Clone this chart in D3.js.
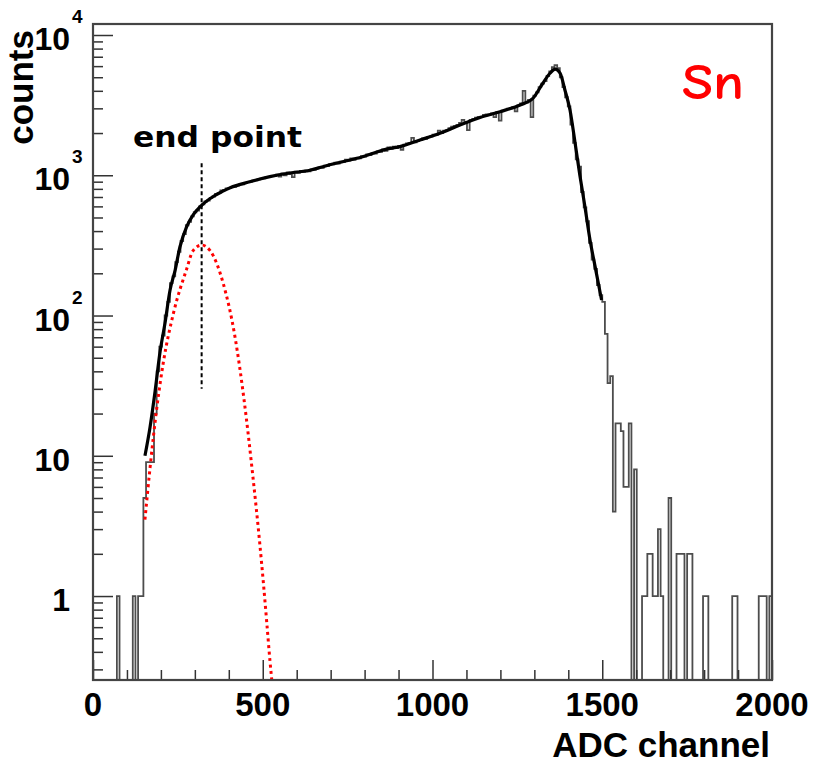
<!DOCTYPE html>
<html>
<head>
    <meta charset="utf-8">
    <title>Sn ADC spectrum</title>
    <script src="https://cdnjs.cloudflare.com/ajax/libs/d3/7.8.5/d3.min.js"></script>
    <style>
        body { margin: 0; background: #fff; }
        svg { display: block; }
        .lbl { font-family: "Liberation Sans", Arial, Helvetica, sans-serif; font-weight: bold; fill: #000; }
    </style>
</head>
<body>
<svg id="chart" width="816" height="763"></svg>
<script>
    // histogram: 256 bins over 0..2000 ADC channels
    const adcMax = 2000;
    const countsLow = [0, 0, 0, 0, 0, 0, 0, 0, 0, 1, 0, 0, 0, 0, 0, 1, 0, 1, 1, 5, 9, 9, 9];
    const countsBody = [
        20, 40, 60, 72, 100, 125, 170, 190, 240, 285,
        340, 380, 440, 465, 510, 545, 560, 600, 620, 650,
        660, 690, 705, 735, 745, 780, 785, 805, 810, 825,
        828, 845, 860, 862, 880, 895, 900, 915, 920, 935,
        945, 950, 970, 975, 990, 985, 1010, 980, 1030, 1000,
        1050, 1020, 970, 1060, 1040, 1075, 1060, 1080, 1065, 1100,
        1095, 1120, 1140, 1130, 1170, 1160, 1200, 1195, 1230, 1210,
        1250, 1240, 1290, 1270, 1320, 1290, 1330, 1320, 1370, 1360,
        1410, 1390, 1440, 1430, 1480, 1470, 1530, 1490, 1580, 1540,
        1600, 1560, 1620, 1520, 1650, 1690, 1700, 1850, 1720, 1750,
        1780, 1830, 1820, 1880, 1890, 1950, 1940, 2080, 2000, 2080,
        2100, 2170, 2220, 2250, 2290, 2360, 2480, 2400, 2100, 2480,
        2520, 2580, 2610, 2620, 2690, 2720, 2700, 2760, 2600, 2820,
        2450, 2890, 2920, 2980, 3000, 3060, 2850, 3150, 3250, 4000,
        3300, 3450, 2600, 3700, 3900, 4250, 4500, 4700, 5100, 5500,
        5900, 6100, 5800, 5000, 4250, 3600, 3100, 2300, 1700, 1300,
        1150, 760, 590, 470, 330, 250, 215, 165, 140
    ];
    const countsTail = [
        125, 74, 33, 37, 4, 17, 17, 15, 6, 6,
        17, 0, 8, 0, 0, 1, 1, 2, 2, 1,
        1, 3, 1, 0, 0, 5, 0, 0, 2, 2,
        2, 0, 2, 2, 0, 0, 0, 0, 1, 1,
        0, 0, 0, 0, 0, 0, 0, 0, 0, 1,
        1, 0, 0, 0, 0, 0, 0, 0, 0, 1,
        1, 1, 0, 1
    ];

    // fitted spectrum (black) and end-point gaussian (red dotted)
    const fitAdc = [153, 168, 183, 197, 212, 227, 242, 256, 276, 295, 320, 353, 383, 404, 462, 521, 580, 639, 677, 719,
        777, 875, 904, 963, 1022, 1081, 1140, 1199, 1258, 1296, 1325, 1346, 1361, 1376, 1390, 1405, 1420, 1434, 1449, 1464, 1479, 1498];
    const fitCounts = [10, 16, 29, 54, 88, 152, 211, 308, 430, 521, 611, 703, 770, 815, 899, 977, 1038, 1085, 1151, 1222,
        1321, 1556, 1600, 1784, 1990, 2280, 2580, 2840, 3170, 3540, 4530, 5336, 5720, 5336, 4055, 2918, 1700, 1000, 597, 345, 223, 129];
    const gausAdc = [153, 168, 188, 207, 237, 276, 294, 320, 345, 384, 418, 445, 471, 491, 502, 512, 521, 529];
    const gausCounts = [3.5, 8.2, 22, 46, 104, 215, 288, 318, 290, 168, 71, 25, 7.1, 2.4, 1.23, 0.64, 0.35, 0.22];

    const endPointAdc = 320;
    const endPointRange = [30, 1220];

    const xMajor = [0, 500, 1000, 1500, 2000];
    const yMajor = [1, 10, 100, 1000, 10000];
    const yExp = ["", "", "2", "3", "4"];

    const counts = countsLow.concat(countsBody, countsTail);
    const binW = adcMax / counts.length;

    const svg = d3.select("#chart");
    const fL = 93, fR = 772, fT = 24, fB = 680;

    const x = d3.scaleLinear().domain([0, adcMax]).range([fL, fR]);
    const y = d3.scaleLog().domain([0.252, 11980]).range([fB, fT]);

    svg.append("clipPath").attr("id", "frame")
        .append("rect").attr("x", fL).attr("y", fT).attr("width", fR - fL).attr("height", fB - fT);

    const plot = svg.append("g").attr("clip-path", "url(#frame)");

    // histogram outline
    const yv = v => v > 0 ? Math.min(y(v), fB + 2) : fB + 2;
    const steps = counts.map((c, i) => [i * binW, c]);
    steps.push([adcMax, counts[counts.length - 1]]);
    plot.append("path")
        .attr("d", d3.line().x(d => x(d[0])).y(d => yv(d[1])).curve(d3.curveStepAfter)(steps))
        .attr("fill", "none")
        .attr("stroke", "#4d4d4d")
        .attr("stroke-width", 1.8);

    // red gaussian
    plot.append("path")
        .attr("d", d3.line().x((d, i) => x(gausAdc[i])).y(d => y(d)).curve(d3.curveMonotoneX)(gausCounts))
        .attr("fill", "none")
        .attr("stroke", "#ff0000")
        .attr("stroke-width", 3)
        .attr("stroke-dasharray", "3,3.5");

    // fit
    plot.append("path")
        .attr("d", d3.line().x((d, i) => x(fitAdc[i])).y(d => y(d)).curve(d3.curveMonotoneX)(fitCounts))
        .attr("fill", "none")
        .attr("stroke", "#000")
        .attr("stroke-width", 3.2)
        .attr("stroke-linejoin", "round");

    // end point marker
    plot.append("line")
        .attr("x1", x(endPointAdc)).attr("x2", x(endPointAdc))
        .attr("y1", y(endPointRange[1])).attr("y2", y(endPointRange[0]))
        .attr("stroke", "#000")
        .attr("stroke-width", 2)
        .attr("stroke-dasharray", "4,3");

    // axes, ticks pointing inward
    const xMinor = d3.range(0, adcMax + 1, 100).filter(v => xMajor.indexOf(v) < 0);
    const yMinor = [];
    [0.1, 1, 10, 100, 1000].forEach(dec => {
        for (let k = 2; k <= 9; k++) {
            const v = dec * k;
            if (v >= y.domain()[0] && v <= y.domain()[1]) yMinor.push(v);
        }
    });

    const tickStyle = g => {
        g.select(".domain").remove();
        g.selectAll("line").attr("stroke", "#333").attr("stroke-width", 1.5);
        g.selectAll("text").remove();
    };

    svg.append("g").attr("transform", `translate(0,${fB})`)
        .call(d3.axisBottom(x).tickValues(xMajor).tickSize(-20)).call(tickStyle);
    svg.append("g").attr("transform", `translate(0,${fB})`)
        .call(d3.axisBottom(x).tickValues(xMinor).tickSize(-10)).call(tickStyle);
    svg.append("g").attr("transform", `translate(${fL},0)`)
        .call(d3.axisLeft(y).tickValues(yMajor).tickSize(-20)).call(tickStyle);
    svg.append("g").attr("transform", `translate(${fL},0)`)
        .call(d3.axisLeft(y).tickValues(yMinor).tickSize(-10)).call(tickStyle);

    svg.append("rect")
        .attr("x", fL).attr("y", fT).attr("width", fR - fL).attr("height", fB - fT)
        .attr("fill", "none").attr("stroke", "#444").attr("stroke-width", 2.2);

    // tick labels
    svg.selectAll("text.xl").data(xMajor).enter().append("text")
        .attr("class", "lbl xl")
        .attr("x", d => x(d)).attr("y", 716)
        .attr("text-anchor", "middle")
        .style("font-size", "33px")
        .text(d => d);

    yMajor.forEach((v, i) => {
        svg.append("text").attr("class", "lbl")
            .attr("x", 70).attr("y", y(v) + 15)
            .attr("text-anchor", "end")
            .style("font-size", "32px")
            .text(v === 1 ? "1" : "10");
        if (yExp[i]) {
            svg.append("text").attr("class", "lbl")
                .attr("x", 72).attr("y", y(v) - 12)
                .style("font-size", "19px")
                .text(yExp[i]);
        }
    });

    // titles
    svg.append("text").attr("class", "lbl")
        .attr("x", 770).attr("y", 757)
        .attr("text-anchor", "end")
        .style("font-size", "35px")
        .text("ADC channel");

    svg.append("text").attr("class", "lbl")
        .attr("transform", "translate(33,30) rotate(-90)")
        .attr("text-anchor", "end")
        .style("font-size", "35px")
        .text("counts");

    svg.append("text")
        .attr("x", 133).attr("y", 147)
        .attr("textLength", 169).attr("lengthAdjust", "spacingAndGlyphs")
        .style("font-family", "'DejaVu Sans', Verdana, sans-serif")
        .style("font-weight", "bold")
        .style("font-size", "28px")
        .text("end point");

    svg.append("text")
        .attr("x", 682).attr("y", 99)
        .attr("textLength", 62).attr("lengthAdjust", "spacingAndGlyphs")
        .style("font-family", "'Comic Sans MS', 'Comic Neue', 'DejaVu Sans', sans-serif")
        .style("font-weight", "bold")
        .style("font-size", "50px")
        .attr("fill", "#ff0000")
        .text("Sn");
</script>
</body>
</html>
